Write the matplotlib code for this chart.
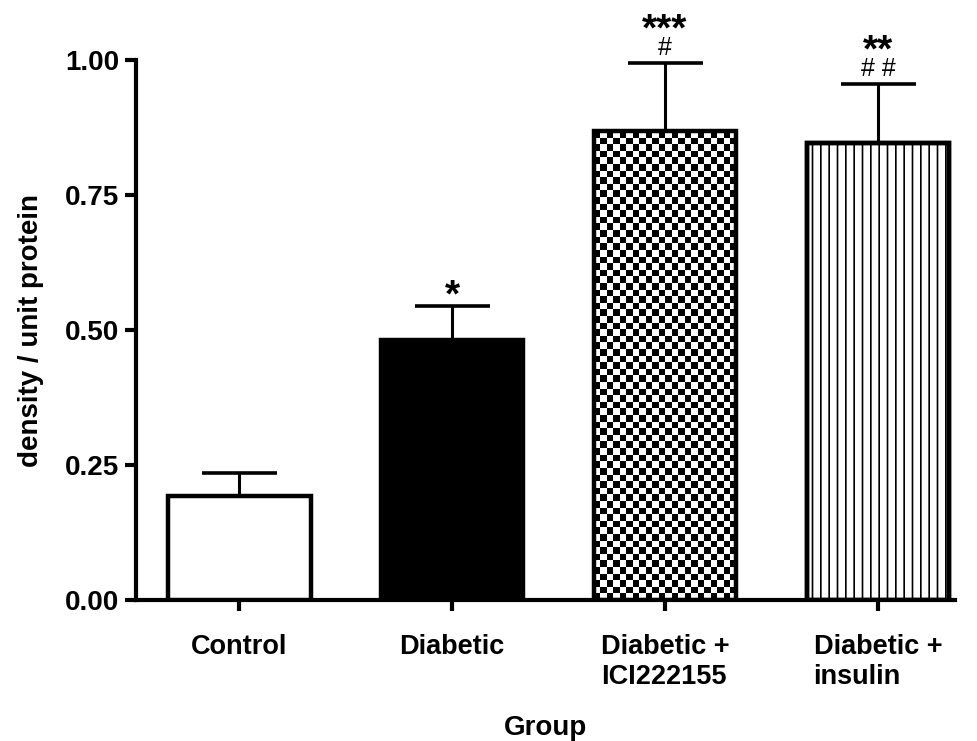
import numpy as np
import matplotlib
matplotlib.use('Agg')
import matplotlib.pyplot as plt

plt.rcParams['font.family'] = ['Liberation Sans', 'DejaVu Sans']
plt.rcParams['hatch.linewidth'] = 1.2

groups = ['Control', 'Diabetic', 'Diabetic +\nICI222155', 'Diabetic +\ninsulin']
means = [0.193, 0.482, 0.868, 0.846]
sem = [0.043, 0.063, 0.126, 0.109]
stars = ['', '*', '***', '**']
hashes = ['', '', '#', '# #']

fig = plt.figure(figsize=(9.77, 7.41), dpi=100)
ax = fig.add_axes([0.139, 0.190, 0.838, 0.729])

x = np.arange(len(groups))
w = 0.67
lw = 3.2

# control: open bar, diabetic: solid black
ax.bar(x[0], means[0], w, color='white', edgecolor='black', linewidth=lw, zorder=3)
ax.bar(x[1], means[1], w, color='black', edgecolor='black', linewidth=lw, zorder=3)

# ICI: checkerboard fill clipped to the bar
b2 = ax.bar(x[2], means[2], w, color='white', edgecolor='none', linewidth=0, zorder=2)[0]
cell_y = 6.6 / 540
ny = int(round(means[2] / cell_y))
nx = 22
ii, jj = np.indices((ny, nx))
checker = (ii + jj) % 2
im = ax.imshow(checker, cmap='gray', interpolation='nearest', aspect='auto',
               extent=(x[2] - w / 2, x[2] + w / 2, 0, means[2]), origin='lower', zorder=2.5)
im.set_clip_path(b2)
ax.bar(x[2], means[2], w, fill=False, edgecolor='black', linewidth=lw, zorder=3)

# insulin: vertical lines
ax.bar(x[3], means[3], w, color='white', edgecolor='black', linewidth=lw,
       hatch='||', zorder=3)
ax.bar(x[3], means[3], w, fill=False, edgecolor='black', linewidth=lw, zorder=3.1)

# upward error bars only
ax.errorbar(x, means, yerr=[np.zeros(len(sem)), sem], fmt='none', ecolor='black',
            elinewidth=2.2, capsize=27, capthick=2.6, zorder=2)

for xi, m, s, st, hs in zip(x, means, sem, stars, hashes):
    top = m + s
    if hs:
        ax.text(xi, top + 0.016, hs, ha='center', va='baseline', fontsize=18,
                clip_on=False)
        star_y = top + 0.043
    else:
        star_y = top - 0.002
    if st:
        ax.text(xi, star_y, st, ha='center', va='baseline', fontsize=28,
                fontweight='bold', clip_on=False)

ax.set_xlim(-0.486, 3.36)
ax.set_ylim(0, 1.0)
ax.set_yticks([0, 0.25, 0.5, 0.75, 1.0])
ax.set_yticklabels(['0.00', '0.25', '0.50', '0.75', '1.00'])
ax.set_xticks(x)
ax.set_xticklabels(groups, fontsize=19.5, fontweight='bold', linespacing=1.22)
for lab in ax.get_xticklabels():
    lab.set_horizontalalignment('center')
    lab.set_multialignment('left')
for lab in ax.get_yticklabels():
    lab.set_fontsize(20)
    lab.set_fontweight('bold')

ax.tick_params(axis='both', direction='out', length=8, width=3)
ax.tick_params(axis='x', pad=16)
ax.tick_params(axis='y', pad=4)
for sp in ['top', 'right']:
    ax.spines[sp].set_visible(False)
for sp in ['left', 'bottom']:
    ax.spines[sp].set_linewidth(3)

ax.set_ylabel('density / unit protein', fontsize=20, fontweight='bold', labelpad=15)
ax.set_xlabel('Group', fontsize=20, fontweight='bold', labelpad=18)

plt.savefig('out.png', dpi=100)
